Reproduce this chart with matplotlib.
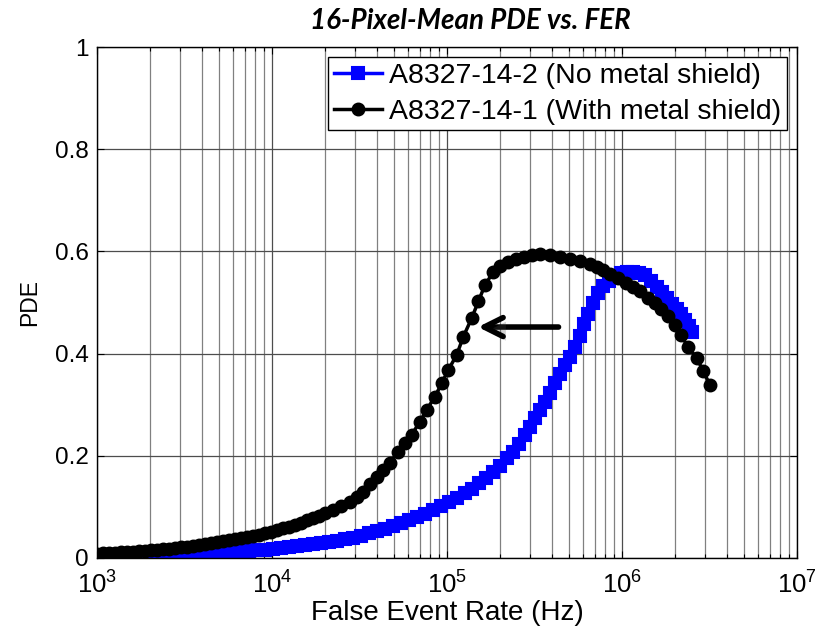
import matplotlib
matplotlib.use('Agg')
import matplotlib.pyplot as plt
import matplotlib.patheffects as pe
from matplotlib.ticker import LogLocator, NullLocator, NullFormatter

plt.rcParams['font.family'] = ['Liberation Sans', 'DejaVu Sans']
plt.rcParams['mathtext.fontset'] = 'custom'
plt.rcParams['mathtext.rm'] = 'Liberation Sans'

# A8327-14-2, no metal shield (blue squares)
fer_noshield = [1000, 1111, 1234, 1371, 1524, 1693, 1881, 2089, 2321, 2579,
                2865, 3184, 3537, 3929, 4365, 4850, 5388, 5986, 6651, 7389,
                8209, 9120, 10130, 11260, 12510, 13900, 15440, 17150, 19060, 21170,
                23520, 26130, 29030, 32260, 35840, 39810, 44230, 49140, 54590, 60660,
                67390, 74870, 83180, 92420, 1.027e5, 1.141e5, 1.268e5, 1.390e5, 1.524e5, 1.671e5,
                1.832e5, 2.009e5, 2.203e5, 2.383e5, 2.579e5, 2.790e5, 2.980e5, 3.184e5, 3.400e5, 3.631e5,
                3.878e5, 4.141e5, 4.423e5, 4.724e5, 5.045e5, 5.388e5, 5.754e5, 6.066e5, 6.393e5, 6.828e5,
                7.293e5, 7.788e5, 8.429e5, 9.120e5, 9.869e5, 1.068e6, 1.156e6, 1.251e6, 1.353e6, 1.465e6,
                1.585e6, 1.693e6, 1.808e6, 1.931e6, 2.063e6, 2.174e6, 2.291e6, 2.415e6, 2.512e6]
pde_noshield = [.001, .002, .002, .003, .003, .004, .004, .005, .005, .006,
                .006, .007, .007, .008, .009, .010, .011, .012, .013, .014,
                .015, .016, .017, .019, .021, .023, .025, .027, .029, .031,
                .034, .037, .040, .044, .048, .052, .057, .062, .068, .074,
                .080, .087, .094, .101, .109, .118, .127, .136, .146, .157,
                .168, .181, .195, .208, .224, .241, .257, .274, .290, .306,
                .323, .342, .360, .377, .393, .412, .435, .458, .478, .500,
                .518, .532, .543, .551, .557, .560, .560, .558, .553, .543,
                .531, .520, .508, .498, .488, .478, .466, .454, .443]

# A8327-14-1, with metal shield (black circles)
fer_shield = [1000, 1082, 1171, 1267, 1371, 1484, 1606, 1738, 1881, 2035,
              2202, 2383, 2579, 2791, 3020, 3268, 3537, 3827, 4142, 4482,
              4850, 5248, 5679, 6146, 6651, 7197, 7788, 8428, 9120, 9869,
              10680, 11560, 12510, 13530, 14650, 15850, 17150, 18560, 20080, 22300,
              24770, 27900, 30590, 33110, 36310, 39630, 43050, 47200, 52480, 57540,
              62800, 70100, 76600, 85400, 93300, 1.017e5, 1.135e5, 1.239e5, 1.383e5, 1.510e5,
              1.648e5, 1.840e5, 2.009e5, 2.234e5, 2.478e5, 2.754e5, 3.06e5, 3.40e5, 3.88e5, 4.43e5,
              5.05e5, 5.75e5, 6.56e5, 7.19e5, 7.78e5, 8.53e5, 9.48e5, 1.054e6, 1.156e6, 1.268e6,
              1.409e6, 1.545e6, 1.671e6, 1.833e6, 2.010e6, 2.174e6, 2.384e6, 2.683e6, 2.904e6, 3.184e6]
pde_shield = [.008, .009, .009, .010, .011, .011, .012, .013, .014, .015,
              .016, .017, .018, .019, .021, .022, .024, .025, .027, .029,
              .031, .033, .035, .037, .039, .041, .043, .045, .048, .051,
              .054, .058, .061, .065, .069, .074, .078, .083, .088, .094,
              .102, .110, .119, .130, .145, .159, .172, .186, .208, .225,
              .241, .267, .290, .316, .342, .368, .397, .433, .469, .502,
              .534, .560, .571, .580, .586, .590, .593, .594, .593, .590,
              .586, .581, .575, .569, .564, .556, .548, .538, .530, .522,
              .509, .499, .487, .474, .456, .436, .413, .391, .366, .339]

labels = ['A8327-14-2 (No metal shield)', 'A8327-14-1 (With metal shield)']

fig = plt.figure(figsize=(8.17, 6.29), dpi=100)
ax = fig.add_axes([97/817, 1-558/629, 700/817, 511/629])

ax.plot(fer_noshield, pde_noshield, '-s', color=(0, 0, 1), lw=2.5, ms=8,
        mew=1.5, label=labels[0])
ax.plot(fer_shield, pde_shield, '-o', color='k', lw=2.5, ms=8.5,
        mew=1.5, label=labels[1])

ax.set_xscale('log')
ax.set_xlim(1e3, 1e7)
ax.set_ylim(0, 1)
ax.set_yticks([0, 0.2, 0.4, 0.6, 0.8, 1])
ax.set_yticklabels(['0', '0.2', '0.4', '0.6', '0.8', '1'])
ax.xaxis.set_major_locator(LogLocator(base=10, numticks=10))
ax.xaxis.set_minor_locator(LogLocator(base=10, subs=range(2, 10), numticks=10))
ax.xaxis.set_minor_formatter(NullFormatter())
ax.yaxis.set_minor_locator(NullLocator())

ax.grid(True, which='major', color='0.3', lw=0.9)
ax.grid(True, which='minor', axis='x', color='0.5', lw=0.9)
ax.set_axisbelow(True)

ax.tick_params(which='both', direction='in', top=True, right=True, width=0.8)
ax.tick_params(which='major', length=5)
ax.tick_params(which='minor', length=3)
ax.tick_params(axis='y', labelsize=17.5, pad=6)
ax.tick_params(axis='x', labelsize=18.5, pad=10)
for s in ax.spines.values():
    s.set_linewidth(1.0)

ax.set_xlabel('False Event Rate (Hz)', fontsize=20, labelpad=1)
ax.set_ylabel('PDE', fontsize=16.5, labelpad=10)

fig.text(470/817, 1-21/629, '16-Pixel-Mean PDE vs. FER', fontsize=20,
         fontweight='bold', fontstyle='italic', family=['Lato', 'DejaVu Sans'],
         ha='center', va='center')

leg = ax.legend(loc='upper right', fontsize=20.5, frameon=True, fancybox=False,
                edgecolor='k', framealpha=1, handlelength=1.7, handletextpad=0.25,
                borderpad=0.2, labelspacing=0.35, borderaxespad=0.35)
leg.get_frame().set_linewidth(1.0)

arr = ax.annotate('', xy=(1.45e5, 0.452), xytext=(4.5e5, 0.452),
                  arrowprops=dict(arrowstyle='->', lw=4, color='k', mutation_scale=34))
arr.arrow_patch.set_path_effects([pe.SimplePatchShadow(offset=(2, -3), alpha=0.25), pe.Normal()])

fig.savefig('out.png', dpi=100)
